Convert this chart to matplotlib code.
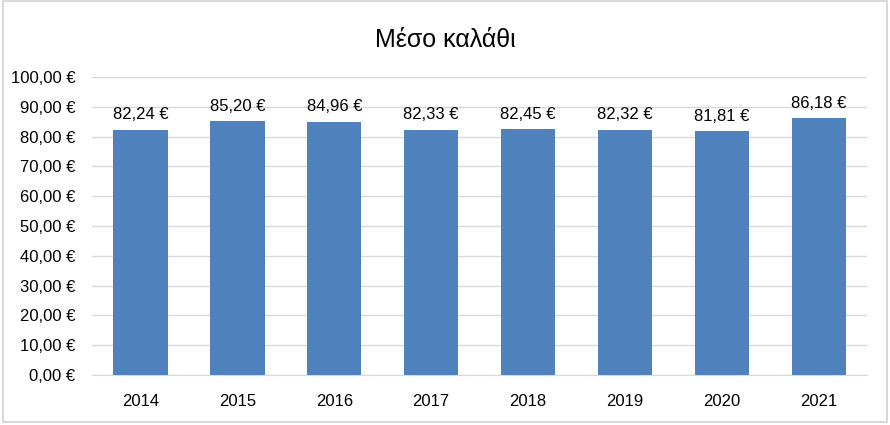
import matplotlib.pyplot as plt
from matplotlib.patches import Rectangle
from matplotlib import font_manager

# δεδομένα
years = ['2014', '2015', '2016', '2017', '2018', '2019', '2020', '2021']
basket = [82.24, 85.20, 84.96, 82.33, 82.45, 82.32, 81.81, 86.18]
yticks = [0, 10, 20, 30, 40, 50, 60, 70, 80, 90, 100]

names = {f.name for f in font_manager.fontManager.ttflist}
fam = ['Liberation Sans Narrow', 'DejaVu Sans'] if 'Liberation Sans Narrow' in names else ['Liberation Sans', 'DejaVu Sans']
plt.rcParams['font.family'] = fam


def euro(v):
    return f'{v:.2f}'.replace('.', ',') + ' €'


fig = plt.figure(figsize=(8.9, 4.25), dpi=100)
ax = fig.add_axes([0.1034, 0.1176, 0.871, 0.7012])

x = range(len(years))
ax.bar(x, basket, width=0.56, color='#4F81BD', zorder=3)
for i, v in zip(x, basket):
    ax.text(i, v + 2.5, euro(v), ha='center', va='bottom', fontsize=12, color='#000000')

ax.set_ylim(0, 100)
ax.set_xlim(-0.5, len(years) - 0.5)
ax.set_yticks(yticks)
ax.set_yticklabels([euro(t) for t in yticks], fontsize=12)
ax.set_xticks(list(x))
ax.set_xticklabels(years, fontsize=12)
ax.grid(axis='y', color='#D9D9D9', linewidth=1, zorder=0)
for s in ['top', 'right', 'left']:
    ax.spines[s].set_visible(False)
ax.spines['bottom'].set_color('#D9D9D9')
ax.tick_params(axis='x', length=0, pad=14)
ax.tick_params(axis='y', length=0, pad=12)

fig.text(0.5, 0.905, 'Μέσο καλάθι', ha='center', va='center', fontsize=18)

# πλαίσιο γύρω από το γράφημα
fig.patches.append(Rectangle((0.003, 0.007), 0.994, 0.99, transform=fig.transFigure,
                             fill=False, edgecolor='#D9D9D9', linewidth=1.5))

fig.savefig('out.png', dpi=100)
